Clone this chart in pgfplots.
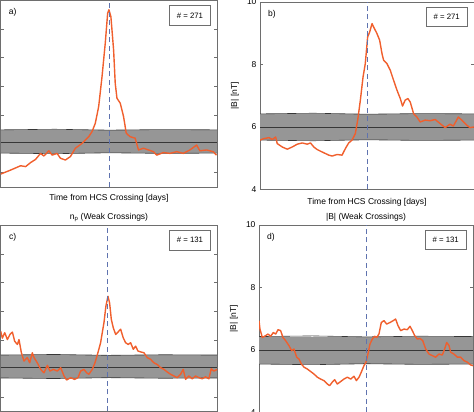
\documentclass[border=0pt]{standalone}
\usepackage{pgfplots}
\pgfplotsset{compat=1.18}
\usepackage{fontspec}
\setmainfont{Liberation Sans}
\definecolor{framegray}{RGB}{110,110,110}
\definecolor{bandgray}{RGB}{150,150,150}
\definecolor{banddark}{RGB}{55,55,55}
\definecolor{curvecol}{RGB}{240,95,45}
\definecolor{dashblue}{RGB}{95,115,175}
\pgfplotsset{
  panel/.style={
    scale only axis, xmin=-10, xmax=10,
    axis line style={draw=framegray, line width=0.7pt},
    tick align=inside, major tick length=3pt,
    tick style={draw=framegray, line width=0.6pt},
    xtick=\empty, ytick pos=both,
    /pgf/number format/assume math mode=true,
    font=\fontsize{8.5}{10}\selectfont,
    ticklabel style={font=\fontsize{8.5}{10}\selectfont},
    title style={font=\fontsize{8.5}{10}\selectfont, yshift=-6pt},
    xlabel style={font=\fontsize{8.5}{10}\selectfont, yshift=-4pt},
  },
  band/.style={draw=none, fill=bandgray, forget plot},
  bandline/.style={draw=banddark, line width=0.6pt, forget plot},
  hcs/.style={draw={rgb,255:red,95;green,115;blue,175}, line width=0.9pt, dash pattern=on 5pt off 3.5pt, forget plot},
  orangeline/.style={draw=curvecol, line width=1.4pt, no marks, line join=round},
}
\newcommand{\countbox}[1]{\node[draw=framegray, line width=0.6pt, minimum width=41pt, minimum height=19.5pt, anchor=north east, inner sep=1pt, font=\fontsize{7.8}{9}\selectfont] at ([xshift=-6.5pt,yshift=-5pt]rel axis cs:1,1) {\# = #1};}
\newcommand{\panellabel}[1]{\node[font=\fontsize{8.5}{10}\selectfont] at ([xshift=12pt,yshift=-12pt]rel axis cs:0,1) {#1};}
\begin{document}
\begin{tikzpicture}
\path[use as bounding box] (0pt,0pt) rectangle (474pt,412pt);
\clip (0pt,0pt) rectangle (474pt,412pt);

% ---------- panel a ----------
\begin{axis}[panel, at={(0.7pt,225pt)}, anchor=south west, width=216.5pt, height=186.7pt,
  ymin=2.5, ymax=9, ytick={3,4,5,6,7,8}, yticklabels={},
  xlabel={Time from HCS Crossing [days]}]
\addplot[band] coordinates {(-10,3.68) (10,3.68) (10,4.49) (-10,4.49)} -- cycle;
\addplot[bandline] coordinates {(-10,4.49) (-5,4.51) (0,4.48) (5,4.50) (10,4.49)};
\addplot[bandline] coordinates {(-10,4.07) (10,4.07)};
\addplot[bandline] coordinates {(-10,3.68) (-5,3.66) (0,3.69) (5,3.67) (10,3.68)};
\addplot[orangeline] coordinates {
(-10,2.95) (-9.08,3.09) (-8.16,3.24) (-7.70,3.21) (-7.24,3.35) (-6.78,3.46)
(-6.32,3.67) (-6.01,3.58) (-5.55,3.76) (-5.25,3.61) (-4.79,3.67) (-4.48,3.50)
(-4.02,3.44) (-3.56,3.56) (-3.10,3.85) (-2.48,4.02) (-1.87,4.25) (-1.56,4.43)
(-1.26,4.72) (-0.95,5.30) (-0.64,6.34) (-0.34,7.51) (-0.12,8.55) (0,8.67)
(0.18,8.43) (0.43,7.27) (0.58,6.11) (0.74,5.59) (1.04,5.42) (1.35,4.95)
(1.60,4.37) (1.96,4.25) (2.42,4.20) (2.73,3.79) (3.19,3.85) (3.65,3.79)
(4.11,3.73) (4.42,3.61) (5.03,3.70) (5.64,3.67) (6.26,3.73) (6.87,3.67)
(7.48,3.79) (8.10,3.96) (8.40,3.76) (9.02,3.79) (9.63,3.73) (9.94,3.61)};
\addplot[hcs] coordinates {(0.05,2.5) (0.05,9)};
\countbox{271}
\panellabel{a)}
\end{axis}

% ---------- panel b ----------
\begin{axis}[panel, at={(260pt,222.5pt)}, anchor=south west, width=214pt, height=187.5pt,
  ymin=4, ymax=10, ytick={4,6,8,10},
  ylabel={|B| [nT]}, ylabel style={at={(axis description cs:-0.117,0.5)}, anchor=center, font=\fontsize{8.5}{10}\selectfont},
  xlabel={Time from HCS Crossing [days]}, xlabel style={yshift=-1pt}]
\addplot[band] coordinates {(-10,5.58) (10,5.58) (10,6.42) (-10,6.42)} -- cycle;
\addplot[bandline] coordinates {(-10,6.42) (-5,6.44) (0,6.41) (5,6.43) (10,6.42)};
\addplot[bandline] coordinates {(-10,6.0) (10,6.0)};
\addplot[bandline] coordinates {(-10,5.58) (-5,5.56) (0,5.59) (5,5.57) (10,5.58)};
\addplot[orangeline] coordinates {
(-10.0,5.58) (-9.63,5.63) (-9.16,5.66) (-8.85,5.60) (-8.54,5.68) (-8.39,5.47)
(-7.92,5.36) (-7.45,5.29) (-6.99,5.36) (-6.52,5.45) (-6.06,5.49) (-5.59,5.45)
(-5.28,5.49) (-4.97,5.36) (-4.66,5.28) (-4.19,5.20) (-3.88,5.15) (-3.57,5.10)
(-3.26,5.07) (-2.80,5.12) (-2.33,5.10) (-2.02,5.31) (-1.71,5.49) (-1.40,5.58)
(-1.09,5.79) (-0.87,6.22) (-0.62,6.86) (-0.37,7.60) (-0.16,8.03) (0.06,8.88)
(0.25,9.04) (0.47,9.31) (0.62,9.20) (0.93,8.99) (1.18,8.78) (1.40,8.35)
(1.55,8.14) (1.86,8.03) (2.17,7.82) (2.48,7.50) (2.80,7.18) (3.11,6.91)
(3.32,6.67) (3.57,6.86) (3.82,6.91) (4.04,6.80) (4.35,6.43) (4.66,6.32)
(4.97,6.16) (5.43,6.22) (5.90,6.20) (6.37,6.24) (6.83,6.11) (7.30,5.98)
(7.76,6.09) (8.07,6.03) (8.54,6.32) (8.85,6.22) (9.32,6.06) (9.63,5.98) (10,6.00)};
\addplot[hcs] coordinates {(0.05,4) (0.05,10)};
\countbox{271}
\panellabel{b)}
\end{axis}

% ---------- panel c ----------
\begin{axis}[panel, at={(0.7pt,0.5pt)}, anchor=south west, width=216.5pt, height=186.3pt,
  ymin=2.5, ymax=9, ytick={3,4,5,6,7,8}, yticklabels={},
  title={n\textsubscript{p} (Weak Crossings)}]
\addplot[band] coordinates {(-10,3.67) (10,3.67) (10,4.47) (-10,4.47)} -- cycle;
\addplot[bandline] coordinates {(-10,4.47) (-5,4.49) (0,4.46) (5,4.48) (10,4.47)};
\addplot[bandline] coordinates {(-10,4.05) (10,4.05)};
\addplot[bandline] coordinates {(-10,3.67) (-5,3.65) (0,3.68) (5,3.66) (10,3.67)};
\addplot[orangeline] coordinates {
(-10,5.30) (-9.85,5.06) (-9.63,5.25) (-9.38,5.01) (-9.14,5.19) (-8.92,5.27)
(-8.71,4.95) (-8.46,4.84) (-8.31,5.01) (-8.09,4.55) (-7.85,4.26) (-7.54,4.38)
(-7.32,4.20) (-7.08,4.55) (-6.92,4.38) (-6.62,4.20) (-6.31,3.97) (-6.00,3.85)
(-5.69,4.11) (-5.45,3.91) (-5.14,3.97) (-4.77,3.91) (-4.46,4.03) (-4.15,3.74)
(-3.91,3.60) (-3.54,3.68) (-3.17,3.62) (-2.86,3.68) (-2.62,3.91) (-2.31,3.97)
(-2.06,3.85) (-1.85,3.80) (-1.54,3.97) (-1.29,4.20) (-1.02,4.55) (-0.77,4.90)
(-0.46,5.60) (-0.28,6.18) (-0.09,6.52) (0.06,6.29) (0.22,5.71) (0.40,5.42)
(0.62,5.19) (0.83,5.27) (1.08,5.37) (1.32,5.07) (1.54,4.90) (1.78,4.84)
(2.00,4.90) (2.25,4.67) (2.46,4.78) (2.68,4.61) (2.92,4.58) (3.23,4.55)
(3.54,4.38) (3.85,4.32) (4.15,4.20) (4.46,4.14) (4.77,4.03) (5.08,3.97)
(5.38,3.88) (5.69,3.80) (6.00,3.74) (6.31,3.68) (6.62,3.80) (6.86,3.97)
(7.08,3.62) (7.38,3.74) (7.69,3.64) (8.00,3.74) (8.31,3.68) (8.62,3.64)
(8.92,3.71) (9.23,3.64) (9.45,3.99) (9.69,3.91) (10,3.97)};
\addplot[hcs] coordinates {(-0.1,2.5) (-0.1,9)};
\countbox{131}
\panellabel{c)}
\end{axis}

% ---------- panel d ----------
\begin{axis}[panel, at={(259pt,-0.5pt)}, anchor=south west, width=214pt, height=187.5pt,
  ymin=4, ymax=10, ytick={4,6,8,10},
  ylabel={|B| [nT]}, ylabel style={at={(axis description cs:-0.117,0.5)}, anchor=center, font=\fontsize{8.5}{10}\selectfont},
  title={|B| (Weak Crossings)}]
\addplot[band] coordinates {(-10,5.55) (10,5.55) (10,6.43) (-10,6.43)} -- cycle;
\addplot[bandline] coordinates {(-10,6.43) (-5,6.45) (0,6.42) (5,6.44) (10,6.43)};
\addplot[bandline] coordinates {(-10,6.0) (10,6.0)};
\addplot[bandline] coordinates {(-10,5.55) (-5,5.53) (0,5.56) (5,5.54) (10,5.55)};
\addplot[orangeline] coordinates {
(-10.0,6.94) (-9.91,6.67) (-9.69,6.40) (-9.38,6.46) (-9.16,6.51) (-8.91,6.44)
(-8.66,6.56) (-8.44,6.51) (-8.22,6.65) (-7.98,6.62) (-7.76,6.40) (-7.51,6.30)
(-7.20,6.14) (-6.95,5.98) (-6.73,6.03) (-6.48,5.77) (-6.26,5.71) (-6.04,5.55)
(-5.79,5.45) (-5.48,5.39) (-5.17,5.31) (-4.86,5.23) (-4.55,5.13) (-4.24,5.07)
(-3.93,5.02) (-3.61,4.91) (-3.40,4.86) (-3.15,4.97) (-2.93,5.05) (-2.68,4.91)
(-2.37,4.99) (-2.06,5.07) (-1.74,5.13) (-1.43,5.07) (-1.12,5.16) (-0.90,5.02)
(-0.65,5.13) (-0.44,5.29) (-0.19,5.50) (0,5.61) (0.22,5.93) (0.37,6.19)
(0.59,6.35) (0.81,6.44) (1.00,6.40) (1.21,6.51) (1.43,6.88) (1.68,6.94)
(1.93,6.83) (2.24,6.88) (2.55,6.94) (2.77,6.99) (2.99,6.78) (3.24,6.62)
(3.55,6.67) (3.86,6.65) (4.11,6.76) (4.33,6.62) (4.55,6.46) (4.80,6.35)
(5.05,6.37) (5.30,6.30) (5.58,6.03) (5.89,5.87) (6.20,5.82) (6.51,5.77)
(6.82,5.87) (7.13,5.84) (7.35,6.03) (7.54,6.24) (7.76,6.14) (7.91,5.93)
(8.22,5.87) (8.54,5.77) (8.85,5.77) (9.16,5.66) (9.47,5.61) (9.78,5.52) (10,5.50)};
\addplot[hcs] coordinates {(0,4) (0,10)};
\countbox{131}
\panellabel{d)}
\end{axis}
\end{tikzpicture}
\end{document}
